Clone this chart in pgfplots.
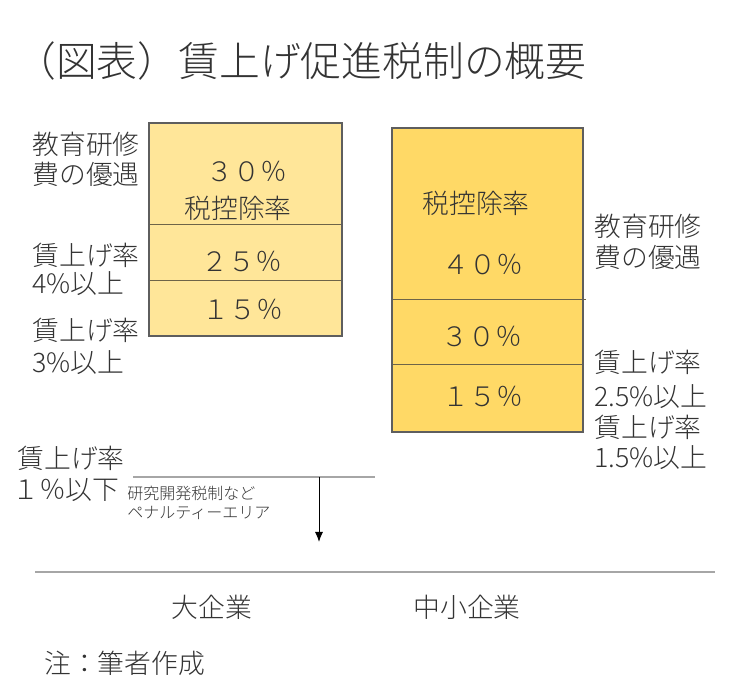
\documentclass[border=0pt]{standalone}
\usepackage{pgfplots}
\pgfplotsset{compat=1.18}
\usetikzlibrary{arrows.meta}
\usepackage{fontspec}
\setmainfont{Noto Sans CJK JP}[UprightFont={* Light}]
\definecolor{lightgold}{HTML}{FFE699}
\definecolor{gold}{HTML}{FFD966}
\definecolor{edge}{HTML}{5E5E5E}
\definecolor{divider}{HTML}{6E6448}
\definecolor{txt}{HTML}{333333}
\definecolor{rule}{HTML}{A6A6A6}
\newcommand{\lab}{\fontsize{13.4}{16}\selectfont}
\newcommand{\smalllab}{\fontsize{8}{10}\selectfont}
\begin{document}
\begin{tikzpicture}
\begin{axis}[x=0.5pt, y=0.5pt, xmin=0, xmax=735, ymin=0, ymax=684,
  hide axis, clip=false, scale only axis]
\coordinate (SW) at (axis cs:0,0);
\coordinate (NE) at (axis cs:735,684);
% ---- large firms (大企業): segments 15%, 25%, 30%
\addplot[fill=lightgold, draw=none] coordinates {(149,348) (342,348) (342,561) (149,561)} -- cycle;
\addplot[divider, line width=0.5pt] coordinates {(149,403) (342,403)};
\addplot[divider, line width=0.5pt] coordinates {(149,459) (342,459)};
\addplot[edge, line width=0.8pt] coordinates {(149,348) (342,348) (342,561) (149,561)} -- cycle;
% ---- SMEs (中小企業): segments 15%, 30%, 40%
\addplot[fill=gold, draw=none] coordinates {(392,252) (583,252) (583,556) (392,556)} -- cycle;
\addplot[divider, line width=0.5pt] coordinates {(392,319) (583,319)};
\addplot[divider, line width=0.5pt] coordinates {(392,384) (586,384)};
\addplot[edge, line width=0.8pt] coordinates {(392,252) (583,252) (583,556) (392,556)} -- cycle;
% ---- baseline and penalty area
\addplot[rule, line width=1pt] coordinates {(35,112) (715,112)};
\addplot[rule, line width=0.6pt] coordinates {(133,207) (375,207)};
\addplot[black, line width=0.5pt, -{Latex[length=5pt,width=4pt]}] coordinates {(319,207) (319,142)};
% ---- text
\begin{scope}[every node/.style={text=txt, inner sep=0pt}]
\node[anchor=west, font=\fontsize{20.4}{24}\selectfont] at (axis cs:15,623) {（図表）賃上げ促進税制の概要};
% left labels
\node[anchor=west, font=\lab] at (axis cs:32,540) {教育研修};
\node[anchor=west, font=\lab] at (axis cs:32,510) {費の優遇};
\node[anchor=west, font=\lab] at (axis cs:32,429) {賃上げ率};
\node[anchor=west, font=\lab] at (axis cs:32,400) {4\%以上};
\node[anchor=west, font=\lab] at (axis cs:32,354) {賃上げ率};
\node[anchor=west, font=\lab] at (axis cs:32,321) {3\%以上};
\node[anchor=west, font=\lab] at (axis cs:17,226) {賃上げ率};
\node[anchor=west, font=\lab] at (axis cs:12,194) {１％以下};
% inside left bar
\node[font=\lab] at (axis cs:247,512) {３０％};
\node[font=\lab] at (axis cs:238,476) {税控除率};
\node[font=\lab] at (axis cs:242,422) {２５％};
\node[font=\lab] at (axis cs:243,374) {１５％};
% inside right bar
\node[font=\lab] at (axis cs:476,481) {税控除率};
\node[font=\lab] at (axis cs:483,419) {４０％};
\node[font=\lab] at (axis cs:482,347) {３０％};
\node[font=\lab] at (axis cs:483,287) {１５％};
% right labels
\node[anchor=west, font=\lab] at (axis cs:594,458) {教育研修};
\node[anchor=west, font=\lab] at (axis cs:594,427) {費の優遇};
\node[anchor=west, font=\lab] at (axis cs:594,322) {賃上げ率};
\node[anchor=west, font=\lab] at (axis cs:594,287) {2.5\%以上};
\node[anchor=west, font=\lab] at (axis cs:594,257) {賃上げ率};
\node[anchor=west, font=\lab] at (axis cs:594,226) {1.5\%以上};
% penalty text
\node[anchor=west, font=\smalllab] at (axis cs:127,191) {研究開発税制など};
\node[anchor=west, font=\smalllab] at (axis cs:127,171) {ペナルティーエリア};
% categories and note
\node[font=\lab] at (axis cs:212,77) {大企業};
\node[font=\lab] at (axis cs:467,77) {中小企業};
\node[anchor=west, font=\lab] at (axis cs:44,21) {注：筆者作成};
\end{scope}
\end{axis}
\pgfresetboundingbox
\path[use as bounding box] (SW) rectangle (NE);
\end{tikzpicture}
\end{document}
